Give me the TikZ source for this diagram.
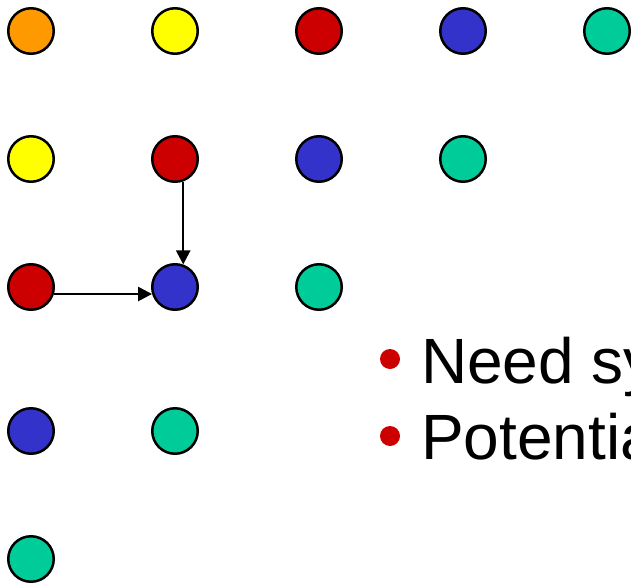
\documentclass[tikz,border=0pt]{standalone}
\usepackage{fontspec}
\setmainfont{Liberation Sans}
\usetikzlibrary{arrows.meta}

\definecolor{dotorange}{RGB}{255,153,0}
\definecolor{dotyellow}{RGB}{255,255,0}
\definecolor{dotred}{RGB}{204,0,0}
\definecolor{dotblue}{RGB}{51,51,204}
\definecolor{dotgreen}{RGB}{0,204,153}

\tikzset{
  dot/.style={circle, draw=black, line width=2.5pt, minimum size=45.5pt, inner sep=0pt},
  bigtext/.style={anchor=base west, inner sep=0pt, font=\fontsize{64}{77}\selectfont},
  bulletdot/.style={circle, fill=dotred, minimum size=20pt, inner sep=0pt}
}

\begin{document}
\begin{tikzpicture}[x=1pt, y=-1pt]
      \useasboundingbox (0,0) rectangle (631,583);
      \clip (0,0) rectangle (631,583);

      % row 1
      \node[dot, fill=dotorange] (O11) at (31,31) {};
      \node[dot, fill=dotyellow] (Y12) at (175,31) {};
      \node[dot, fill=dotred]    (R13) at (319,31) {};
      \node[dot, fill=dotblue]   (B14) at (463,31) {};
      \node[dot, fill=dotgreen]  (G15) at (607,31) {};

      % row 2
      \node[dot, fill=dotyellow] (Y21) at (31,159) {};
      \node[dot, fill=dotred]    (R22) at (175,159) {};
      \node[dot, fill=dotblue]   (B23) at (319,159) {};
      \node[dot, fill=dotgreen]  (G24) at (463,159) {};

      % row 3
      \node[dot, fill=dotred]    (R31) at (31,287) {};
      \node[dot, fill=dotblue]   (B32) at (175,287) {};
      \node[dot, fill=dotgreen]  (G33) at (319,287) {};

      % row 4
      \node[dot, fill=dotblue]   (B41) at (31,431) {};
      \node[dot, fill=dotgreen]  (G42) at (175,431) {};

      % row 5
      \node[dot, fill=dotgreen]  (G51) at (31,559) {};

      \draw [-{Triangle[length=14pt,width=14pt]}, line width=2.5pt] (R22.-70) to (B32.70);
      \draw [-{Triangle[length=14pt,width=14pt]}, line width=2.5pt] (R31.-17) to (B32.197);

      \node[bulletdot] (D1) at (390,359) {};
      \node[bigtext] (T1) at (421,383) {Need sy};
      \node[bulletdot] (D2) at (390,436) {};
      \node[bigtext] (T2) at (421,459) {Potentia};
  \end{tikzpicture}
\end{document}
